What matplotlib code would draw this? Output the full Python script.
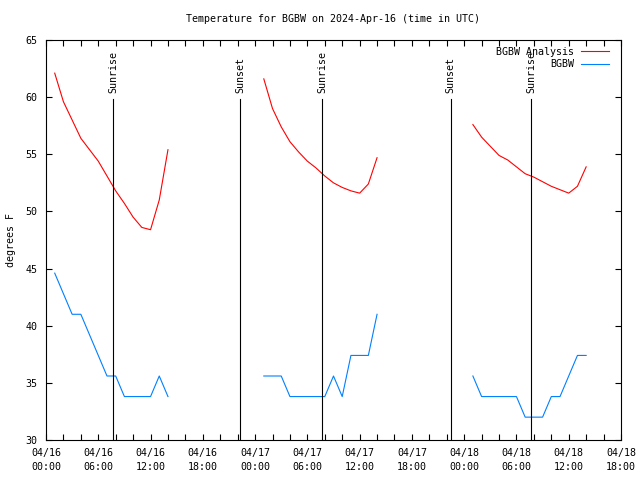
import datetime as dt
import matplotlib
matplotlib.use("Agg")
import matplotlib.pyplot as plt
import matplotlib.dates as mdates

# hour of day (UTC) for each observation, same for each day
hours = list(range(1, 15))
days = ["2024-04-16", "2024-04-17", "2024-04-18"]

# BGBW Analysis (red)
analysis_day1 = [62.1, 59.6, 58.0, 56.4, 55.4, 54.4, 53.1, 51.8, 50.7, 49.5, 48.6, 48.4, 51.0, 55.4]
analysis_day2 = [61.6, 59.0, 57.4, 56.1, 55.2, 54.4, 53.8, 53.1, 52.5, 52.1, 51.8, 51.6, 52.4, 54.7]
analysis_day3 = [57.6, 56.5, 55.7, 54.9, 54.5, 53.9, 53.3, 53.0, 52.6, 52.2, 51.9, 51.6, 52.2, 53.9]

# BGBW observations (blue)
obs_day1 = [44.6, 42.8, 41.0, 41.0, 39.2, 37.4, 35.6, 35.6, 33.8, 33.8, 33.8, 33.8, 35.6, 33.8]
obs_day2 = [35.6, 35.6, 35.6, 33.8, 33.8, 33.8, 33.8, 33.8, 35.6, 33.8, 37.4, 37.4, 37.4, 41.0]
obs_day3 = [35.6, 33.8, 33.8, 33.8, 33.8, 33.8, 32.0, 32.0, 32.0, 33.8, 33.8, 35.6, 37.4, 37.4]

sun_times = ["2024-04-16 07:44", "2024-04-16 22:16", "2024-04-17 07:43",
             "2024-04-17 22:28", "2024-04-18 07:43"]
sun_labels = ["Sunrise", "Sunset", "Sunrise", "Sunset", "Sunrise"]

FONT = "DejaVu Sans Mono"
FS = 7.2
plt.rcParams["font.family"] = FONT
plt.rcParams["font.size"] = FS

fig = plt.figure(figsize=(6.4, 4.8), dpi=100)
ax = fig.add_axes([46 / 640, 40 / 480, 575 / 640, 400 / 480])

red = "#ff0000"
blue = "#0080ff"

analysis = [analysis_day1, analysis_day2, analysis_day3]
obs = [obs_day1, obs_day2, obs_day3]
for i, day in enumerate(days):
    d0 = dt.datetime.strptime(day, "%Y-%m-%d")
    times = [d0 + dt.timedelta(hours=h) for h in hours]
    ax.plot(times, analysis[i], color=red, lw=0.8,
            label="BGBW Analysis" if i == 0 else None)
    ax.plot(times, obs[i], color=blue, lw=0.8,
            label="BGBW" if i == 0 else None)

for t, lab in zip(sun_times, sun_labels):
    tt = dt.datetime.strptime(t, "%Y-%m-%d %H:%M")
    ax.plot([tt, tt], [30, 59.8], color="black", lw=0.8)
    ax.text(tt, 60.4, lab, rotation=90, ha="center", va="bottom", fontsize=FS)

start = dt.datetime(2024, 4, 16)
ax.set_xlim(start, start + dt.timedelta(hours=66))
ax.set_ylim(30, 65)
ax.set_yticks(range(30, 66, 5))
ax.xaxis.set_major_locator(mdates.HourLocator(byhour=[0, 6, 12, 18]))
ax.xaxis.set_minor_locator(mdates.HourLocator(interval=2))
ax.xaxis.set_major_formatter(mdates.DateFormatter("%m/%d\n%H:%M"))

ax.tick_params(which="both", direction="in", top=True, right=True,
               length=4, width=0.8, labelsize=FS, pad=6)
for lbl in ax.get_xticklabels():
    lbl.set_linespacing(1.45)
for s in ax.spines.values():
    s.set_linewidth(0.8)

ax.set_ylabel("degrees F", fontsize=FS, labelpad=7)
ax.set_title("Temperature for BGBW on 2024-Apr-16 (time in UTC)", fontsize=FS, pad=13)

leg = ax.legend(loc="upper right", frameon=False, fontsize=FS, markerfirst=False,
                handlelength=2.8, handletextpad=0.7, labelspacing=0.25,
                borderaxespad=0.1, bbox_to_anchor=(0.988, 0.995))

fig.savefig("out.png", dpi=100)
